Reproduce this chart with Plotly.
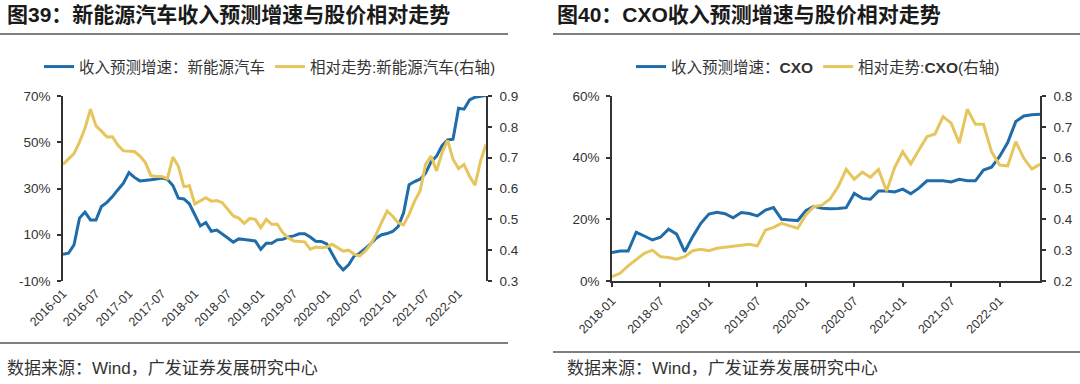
import plotly.graph_objects as go

# ---------------- data ----------------
months_ev = [f"{y}-{m:02d}" for y in range(2016, 2023) for m in range(1, 13)][:78]
growth_ev = [1.6, 2.0, 5.6, 17.2, 19.8, 16.4, 16.4, 22.2, 24.0, 26.5, 29.5, 32.3,
             36.9, 34.8, 33.3, 33.4, 33.8, 34.1, 34.5, 34.0, 31.3, 25.8, 25.5, 23.4,
             18.5, 13.8, 15.3, 11.5, 12.0, 10.4, 8.6, 6.8, 8.2, 7.9, 7.6, 7.3,
             3.7, 6.3, 6.3, 7.8, 8.0, 9.0, 9.5, 10.4, 10.4, 9.0, 7.2, 7.1,
             6.0, 1.5, -2.5, -5.2, -3.0, 0.8, 2.0, 4.0, 6.0, 8.5, 10.0, 10.5,
             11.4, 13.5, 19.5, 31.6, 33.0, 34.0, 36.6, 41.5, 44.0, 48.5, 51.0, 51.3,
             64.7, 64.3, 68.3, 69.5, 70.0, 70.2]
rel_ev = [0.678, 0.695, 0.713, 0.750, 0.795, 0.857, 0.803, 0.786, 0.767, 0.768, 0.740, 0.722,
          0.720, 0.720, 0.705, 0.684, 0.642, 0.639, 0.639, 0.632, 0.702, 0.672, 0.606, 0.609,
          0.550, 0.559, 0.570, 0.559, 0.561, 0.554, 0.533, 0.511, 0.504, 0.487, 0.503, 0.500,
          0.473, 0.500, 0.484, 0.484, 0.457, 0.440, 0.430, 0.428, 0.427, 0.403, 0.410, 0.408,
          0.410, 0.419, 0.408, 0.397, 0.400, 0.387, 0.381, 0.397, 0.419, 0.451, 0.490, 0.527,
          0.510, 0.489, 0.482, 0.516, 0.559, 0.592, 0.678, 0.705, 0.657, 0.716, 0.756, 0.695,
          0.665, 0.678, 0.640, 0.611, 0.689, 0.743]

months_cxo = [f"{y}-{m:02d}" for y in range(2018, 2023) for m in range(1, 13)][:54]
growth_cxo = [9.2, 9.7, 9.7, 15.8, 14.6, 13.3, 14.2, 16.8, 15.2, 9.5, 14.4, 18.7,
              21.7, 22.3, 21.8, 20.5, 22.2, 21.9, 21.1, 23.0, 23.8, 20.0, 19.8, 19.6,
              22.8, 24.2, 23.6, 23.4, 23.5, 23.8, 28.4, 26.8, 26.5, 29.2, 29.2, 28.9,
              29.8, 28.3, 30.1, 32.5, 32.5, 32.5, 32.1, 33.0, 32.5, 32.5, 36.0, 36.9,
              40.4, 44.9, 51.7, 53.5, 53.9, 54.1]
rel_cxo = [0.214, 0.225, 0.249, 0.270, 0.290, 0.300, 0.279, 0.276, 0.271, 0.279, 0.298, 0.303,
           0.298, 0.306, 0.309, 0.311, 0.315, 0.319, 0.314, 0.365, 0.374, 0.387, 0.379, 0.371,
           0.414, 0.441, 0.446, 0.466, 0.506, 0.562, 0.530, 0.553, 0.536, 0.562, 0.492, 0.568,
           0.619, 0.580, 0.625, 0.668, 0.677, 0.733, 0.712, 0.647, 0.757, 0.708, 0.708, 0.619,
           0.576, 0.573, 0.652, 0.598, 0.563, 0.579]

left_ticks = [-10, 10, 30, 50, 70]
left_right_ticks = [0.3, 0.4, 0.5, 0.6, 0.7, 0.8, 0.9]
right_ticks = [0, 20, 40, 60]
right_right_ticks = [0.2, 0.3, 0.4, 0.5, 0.6, 0.7, 0.8]

title_ev = "图39：新能源汽车收入预测增速与股价相对走势"
title_cxo = "图40：CXO收入预测增速与股价相对走势"
source_txt = "数据来源：Wind，广发证券发展研究中心"
name_g_ev = "收入预测增速：新能源汽车"
name_r_ev = "相对走势:新能源汽车(右轴)"
name_g_cxo = "收入预测增速：<b>CXO</b>"
name_r_cxo = "相对走势:<b>CXO</b>(右轴)"

# ---------------- style ----------------
W, H = 1080, 384
BLUE = "#1f6ca8"
GOLD = "#e6c65c"
AX = "#333333"
TXT = "#333333"
FONT = "Liberation Sans, Noto Sans CJK SC, sans-serif"

def px_x(p):
    return p / W

def px_y(p):
    return 1 - p / H

ydom = [px_y(281), px_y(96)]
xdom_l = [px_x(63), px_x(486)]
xdom_r = [px_x(612), px_x(1040)]

fig = go.Figure()
fig.add_trace(go.Scatter(x=months_ev, y=growth_ev, name=name_g_ev, mode="lines",
                         line=dict(color=BLUE, width=3), xaxis="x", yaxis="y", legend="legend"))
fig.add_trace(go.Scatter(x=months_ev, y=rel_ev, name=name_r_ev, mode="lines",
                         line=dict(color=GOLD, width=3), xaxis="x", yaxis="y2", legend="legend"))
fig.add_trace(go.Scatter(x=months_cxo, y=growth_cxo, name=name_g_cxo, mode="lines",
                         line=dict(color=BLUE, width=3), xaxis="x2", yaxis="y3", legend="legend2"))
fig.add_trace(go.Scatter(x=months_cxo, y=rel_cxo, name=name_r_cxo, mode="lines",
                         line=dict(color=GOLD, width=3), xaxis="x2", yaxis="y4", legend="legend2"))

tickfont_x = dict(family=FONT, size=12.5, color=TXT)
tickfont_y = dict(family=FONT, size=13.5, color=TXT)

yl_lo, yl_hi = left_ticks[0], left_ticks[-1]
zero_pos = ydom[0] + (0 - yl_lo) / (yl_hi - yl_lo) * (ydom[1] - ydom[0])

axline = dict(showline=True, linecolor=AX, linewidth=1.5, ticks="outside", ticklen=4,
              tickwidth=1.5, tickcolor=AX, showgrid=False, zeroline=False, automargin=False)

fig.update_layout(
    width=W, height=H, template="none",
    paper_bgcolor="white", plot_bgcolor="white",
    margin=dict(l=0, r=0, t=0, b=0),
    showlegend=True,
    font=dict(family=FONT, color=TXT),
    xaxis=dict(domain=xdom_l, anchor="y", type="category", range=[0, len(months_ev) - 1],
               tickvals=months_ev[::6], tickangle=-45, tickfont=tickfont_x,
               ticklabelstandoff=2,
               showline=False, ticks="", showgrid=False, zeroline=False, automargin=False),
    xaxis3=dict(domain=xdom_l, anchor="free", position=zero_pos, overlaying="x",
                range=[0, len(months_ev) - 1], tickvals=list(range(0, len(months_ev), 6)),
                showticklabels=False, **axline),
    yaxis=dict(domain=ydom, anchor="x", range=[yl_lo, yl_hi], tickvals=left_ticks,
               ticktext=[f"{v}%" for v in left_ticks], tickfont=tickfont_y,
               ticklabelstandoff=4, **axline),
    yaxis2=dict(overlaying="y", side="right", anchor="x", range=[0.3, 0.9],
                tickvals=left_right_ticks, ticktext=[f"{v:.1f}" for v in left_right_ticks],
                tickfont=tickfont_y, ticklabelstandoff=5, **axline),
    xaxis2=dict(domain=xdom_r, anchor="y3", type="category", range=[0, len(months_cxo) - 1],
                tickvals=months_cxo[::6], tickangle=-45, tickfont=tickfont_x,
                ticklabelstandoff=2, **axline),
    yaxis3=dict(domain=ydom, anchor="x2", range=[right_ticks[0], right_ticks[-1]],
                tickvals=right_ticks, ticktext=[f"{v}%" for v in right_ticks],
                tickfont=tickfont_y, ticklabelstandoff=4, **axline),
    yaxis4=dict(overlaying="y3", side="right", anchor="x2", range=[0.2, 0.8],
                tickvals=right_right_ticks, ticktext=[f"{v:.1f}" for v in right_right_ticks],
                tickfont=tickfont_y, ticklabelstandoff=5, **axline),
    legend=dict(orientation="h", x=px_x(270), y=px_y(67), xanchor="center", yanchor="middle",
                font=dict(family=FONT, size=15.5, color=TXT), bgcolor="rgba(0,0,0,0)",
                itemwidth=30, tracegroupgap=0),
    legend2=dict(orientation="h", x=px_x(818), y=px_y(67), xanchor="center", yanchor="middle",
                 font=dict(family=FONT, size=15.5, color=TXT), bgcolor="rgba(0,0,0,0)",
                 itemwidth=30, tracegroupgap=0),
)

# titles and source notes
for x0, t in [(5, title_ev), (555, title_cxo)]:
    fig.add_annotation(text=f"<b>{t}</b>", x=px_x(x0), y=px_y(14), xref="paper", yref="paper",
                       xanchor="left", yanchor="middle", showarrow=False,
                       font=dict(family=FONT, size=21, color="#1a1a1a"))
for x0 in (5, 565):
    fig.add_annotation(text=source_txt, x=px_x(x0), y=px_y(368), xref="paper", yref="paper",
                       xanchor="left", yanchor="middle", showarrow=False,
                       font=dict(family=FONT, size=17, color=TXT))

# horizontal rules
for (xa, xb, yy) in [(0, 508, 34), (553, 1080, 34), (0, 508, 343), (553, 1080, 352)]:
    fig.add_shape(type="line", xref="paper", yref="paper", x0=px_x(xa), x1=px_x(xb),
                  y0=px_y(yy), y1=px_y(yy), line=dict(color="#555555", width=1.5))

fig.write_html("out.html", config={"displayModeBar": False},
               post_script="document.body.style.margin='0';document.body.style.overflow='hidden';")
